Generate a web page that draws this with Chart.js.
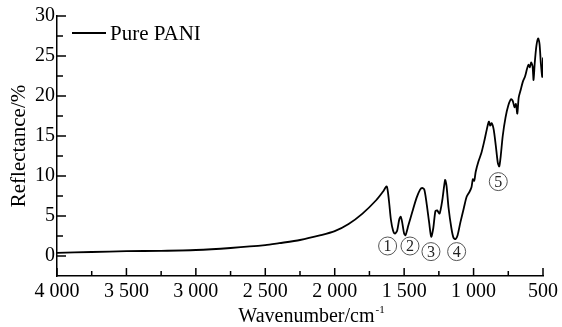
<!DOCTYPE html>
<html>
<head>
<meta charset="utf-8">
<script src="https://cdn.jsdelivr.net/npm/chart.js@4.4.1/dist/chart.umd.min.js"></script>
<style>
html,body{margin:0;padding:0;background:#fff;}
#wrap{width:562px;height:327px;position:relative;}
</style>
</head>
<body>
<div id="wrap"><canvas id="c" width="562" height="327"></canvas></div>
<script>
// ---- data ----
const wavenumbers = [4000,3750,3500,3250,3000,2750,2500,2400,2250,2100,2000,1900,1800,1700,1650,1625,1610,1595,1580,1565,1550,1535,1525,1515,1500,1490,1470,1440,1410,1385,1370,1355,1340,1320,1305,1290,1275,1262,1245,1225,1205,1195,1180,1160,1145,1130,1115,1095,1070,1050,1030,1015,1005,995,985,965,945,925,905,890,880,870,855,840,825,815,805,790,770,750,730,718,705,695,685,675,660,645,630,615,605,595,585,575,568,560,548,535,525,515,505,500];
const reflectance = [0.4,0.5,0.6,0.65,0.75,1.0,1.35,1.6,2.0,2.6,3.1,4.0,5.3,7.0,8.1,8.7,7.0,4.5,3.2,2.8,3.2,4.6,4.9,4.3,2.8,2.6,3.8,5.6,7.3,8.3,8.5,8.3,6.8,4.2,2.4,3.5,5.6,5.7,5.3,7.0,9.5,8.8,6.0,3.5,2.3,2.1,2.6,4.2,6.0,7.4,8.0,8.6,9.6,9.4,10.5,11.8,12.8,14.2,15.8,16.8,16.3,16.6,15.8,13.8,11.6,11.2,12.4,15.0,17.3,18.8,19.6,19.4,18.6,19.0,17.8,19.8,20.8,21.8,22.4,23.4,23.9,23.6,24.2,23.7,22.0,24.0,26.2,27.2,26.5,24.0,22.4,24.8];
const seriesName = 'Pure PANI';
const xTitle = 'Wavenumber/cm';
const xTitleSup = '-1';
const yTitle = 'Reflectance/%';
const peakLabels = ['1','2','3','4','5'];
const peakLabelX = [1619,1458,1307,1122,822];
const peakLabelY = [1.25,1.25,0.55,0.55,9.3];
const xTickValues = [4000,3500,3000,2500,2000,1500,1000,500];
const xMinorTicks = [3750,3250,2750,2250,1750,1250,750];
const yTickValues = [0,5,10,15,20,25,30];
const yMinorTicks = [2.5,7.5,12.5,17.5,22.5,27.5];

const FONT = "'Liberation Serif','Times New Roman',serif";
const points = wavenumbers.map((w,i)=>({x:w,y:reflectance[i]}));

function fmtX(v){
  if (v >= 1000) return Math.floor(v/1000) + ' ' + String(v%1000).padStart(3,'0');
  return String(v);
}

const decor = {
  id:'decor',
  afterDraw(chart){
    const ctx = chart.ctx, xs = chart.scales.x, ys = chart.scales.y, a = chart.chartArea;
    ctx.save();
    ctx.strokeStyle = '#000';
    ctx.lineWidth = 1.5;
    // inward ticks
    ctx.beginPath();
    yTickValues.forEach(v=>{const p=ys.getPixelForValue(v); ctx.moveTo(a.left,p); ctx.lineTo(a.left+9,p);});
    yMinorTicks.forEach(v=>{const p=ys.getPixelForValue(v); ctx.moveTo(a.left,p); ctx.lineTo(a.left+6,p);});
    xTickValues.forEach(v=>{const p=xs.getPixelForValue(v); ctx.moveTo(p,a.bottom); ctx.lineTo(p,a.bottom-8);});
    xMinorTicks.forEach(v=>{const p=xs.getPixelForValue(v); ctx.moveTo(p,a.bottom); ctx.lineTo(p,a.bottom-5);});
    ctx.stroke();
    // legend
    ctx.lineWidth = 1.8;
    ctx.beginPath(); ctx.moveTo(72,33); ctx.lineTo(106,33); ctx.stroke();
    ctx.fillStyle = '#000';
    ctx.font = '21px ' + FONT;
    ctx.textBaseline = 'middle';
    ctx.textAlign = 'left';
    ctx.fillText(seriesName, 110, 34);
    // x axis title with superscript
    ctx.font = '20px ' + FONT;
    ctx.textBaseline = 'alphabetic';
    const w1 = ctx.measureText(xTitle).width;
    ctx.font = '11px ' + FONT;
    const w2 = ctx.measureText(xTitleSup).width;
    const x0 = (a.left + a.right)/2 + 11 - (w1 + w2)/2;
    ctx.font = '20px ' + FONT;
    ctx.fillText(xTitle, x0, 322);
    ctx.font = '11px ' + FONT;
    ctx.fillText(xTitleSup, x0 + w1 + 1, 313);
    // circled peak labels
    ctx.lineWidth = 1;
    ctx.strokeStyle = '#555';
    ctx.font = '16px ' + FONT;
    ctx.textAlign = 'center';
    ctx.textBaseline = 'middle';
    peakLabels.forEach((t,i)=>{
      const px = xs.getPixelForValue(peakLabelX[i]);
      const py = ys.getPixelForValue(peakLabelY[i]);
      ctx.beginPath(); ctx.arc(px,py,9,0,Math.PI*2); ctx.stroke();
      ctx.fillStyle = '#222';
      ctx.fillText(t, px, py+1);
    });
    ctx.restore();
  }
};

new Chart(document.getElementById('c'), {
  type:'line',
  data:{datasets:[{label:seriesName,data:points,borderColor:'#000',borderWidth:1.8,pointRadius:0,tension:0.25,fill:false}]},
  options:{
    responsive:false,
    animation:false,
    layout:{padding:{top:16,right:19,left:0,bottom:0}},
    plugins:{legend:{display:false},tooltip:{enabled:false}},
    scales:{
      x:{
        type:'linear',reverse:true,min:500,max:4000,
        grid:{display:false,drawTicks:false},
        border:{display:true,color:'#000',width:1.5},
        afterBuildTicks(s){s.ticks = xTickValues.map(v=>({value:v}));},
        afterFit(s){s.height = 51;},
        ticks:{color:'#000',padding:4,maxRotation:0,autoSkip:false,font:{family:FONT,size:20},callback:(v)=>fmtX(v)},
        title:{display:false}
      },
      y:{
        type:'linear',min:-2.5,max:30,
        grid:{display:false,drawTicks:false},
        border:{display:true,color:'#000',width:1.5},
        afterBuildTicks(s){s.ticks = yTickValues.map(v=>({value:v}));},
        afterFit(s){s.width = 57;},
        ticks:{color:'#000',padding:2,autoSkip:false,font:{family:FONT,size:20}},
        title:{display:true,text:yTitle,color:'#000',font:{family:FONT,size:21},padding:{top:7,bottom:0}}
      }
    }
  },
  plugins:[decor]
});
</script>
</body>
</html>
